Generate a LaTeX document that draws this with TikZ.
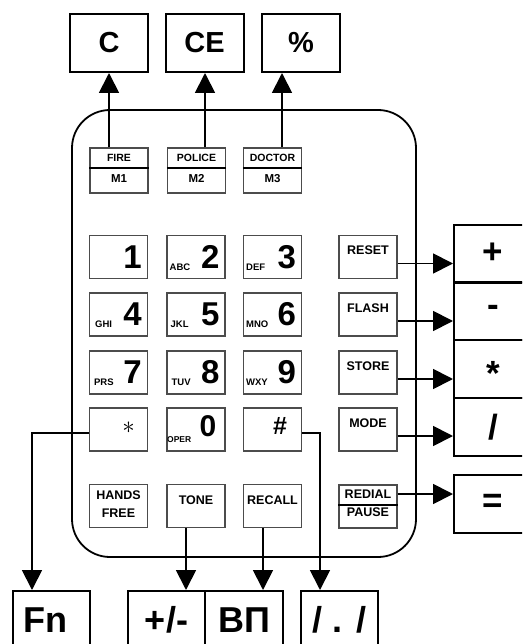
\documentclass[tikz,border=0pt]{standalone}
\usepackage{fontspec}
\setmainfont{Liberation Sans}
\usetikzlibrary{arrows.meta}
\definecolor{keygray}{gray}{0.3}
\newcommand{\fsz}[1]{\fontsize{#1}{#1}\selectfont}
\tikzset{
  keybox/.style={draw=keygray, line width=1.1pt, minimum width=58pt, minimum height=43pt, inner sep=0pt},
  membox/.style={keybox, minimum height=45pt},
  bigbox/.style={draw=black, line width=2pt, minimum width=78pt, minimum height=58pt, inner sep=0pt},
  toptxt/.style={font=\bfseries\fsz{29}, inner sep=0pt},
  sidetxt/.style={font=\bfseries\fsz{35}, inner sep=0pt},
  bottxt/.style={font=\bfseries\fsz{36}, inner sep=0pt},
  digit/.style={font=\bfseries\fsz{33}, inner sep=0pt, anchor=base east},
  letters/.style={font=\bfseries\fsz{9.5}, inner sep=0pt, anchor=base west},
  keylbl/.style={font=\bfseries\fsz{12.5}, inner sep=0pt, anchor=base},
  memlbl/.style={font=\bfseries\fsz{10.5}, inner sep=0pt, anchor=base},
  mlbl/.style={font=\bfseries\fsz{11.5}, inner sep=0pt, anchor=base},
  divider/.style={line width=1.8pt, black},
  conn/.style={line width=1.8pt, -{Triangle[length=20pt,width=20pt]}},
}
\begin{document}
\begin{tikzpicture}[x=1pt,y=-1pt]
\clip (0,0) rectangle (522,644);
\fill[white] (0,0) rectangle (522,644);

% body of the phone
\node[draw, line width=1.8pt, rounded corners=38pt, minimum width=344pt, minimum height=447pt] (body) at (244,333.5) {};

% top boxes
\node[bigbox] (C) at (109,43) {};
\node[toptxt] (Ct) at (C) {C};
\node[bigbox] (CE) at (204.5,43) {};
\node[toptxt] (CEt) at (CE) {CE};
\node[bigbox] (pct) at (301,43) {};
\node[toptxt] (pctt) at (pct) {\%};

% memory keys
\node[membox] (m1) at (119,170.5) {};
\node[membox] (m2) at (196.5,170.5) {};
\node[membox] (m3) at (272.5,170.5) {};
\foreach \m/\a/\b in {m1/FIRE/M1, m2/POLICE/M2, m3/DOCTOR/M3}{
  \draw[divider] ([yshift=2.5pt]\m.west) -- ([yshift=2.5pt]\m.east);
  \node[memlbl] (\m a) at ([yshift=-14pt]\m.north) {\a};
  \node[mlbl] (\m b) at ([yshift=11pt]\m.south) {\b};
}

% digit keys
\foreach \n/\x/\y in {k1/118.5/257, k2/196/257, k3/272.5/257,
                      k4/118.5/314.5, k5/196/314.5, k6/272.5/314.5,
                      k7/118.5/372.5, k8/196/372.5, k9/272.5/372.5,
                      kstar/118.5/429.5, k0/196/429.5, khash/272.5/429.5,
                      hands/118.5/506, tone/196/506, recall/272.5/506}{
  \node[keybox] (\n) at (\x,\y) {};
}
\foreach \n/\d in {k1/1,k2/2,k3/3,k4/4,k5/5,k6/6,k7/7,k8/8,k9/9}{
  \node[digit] (\n d) at ([shift={(-6pt,11pt)}]\n.south east) {\d};
}
\node[letters] (k2l) at ([shift={(3pt,9pt)}]k2.south west) {ABC};
\node[letters] (k3l) at ([shift={(3pt,9pt)}]k3.south west) {DEF};
\node[letters] (k4l) at ([shift={(6pt,9pt)}]k4.south west) {GHI};
\node[letters] (k5l) at ([shift={(4pt,9pt)}]k5.south west) {JKL};
\node[letters] (k6l) at ([shift={(3pt,9pt)}]k6.south west) {MNO};
\node[letters] (k7l) at ([shift={(5pt,9pt)}]k7.south west) {PRS};
\node[letters] (k8l) at ([shift={(5pt,9pt)}]k8.south west) {TUV};
\node[letters] (k9l) at ([shift={(3pt,9pt)}]k9.south west) {WXY};
\node[letters, font=\bfseries\fsz{8.5}] (k0l) at ([shift={(0.5pt,9pt)}]k0.south west) {OPER};
\node[digit, font=\bfseries\fsz{30}] (k0d) at ([shift={(-9pt,15pt)}]k0.south east) {0};
\node[inner sep=0pt, font=\fsz{32}] (kstard) at ([shift={(10pt,2pt)}]kstar.center) {$\ast$};
\node[inner sep=0pt, font=\bfseries\fsz{25}, anchor=base] (khashd) at ([shift={(7.5pt,17pt)}]khash.south) {\#};

% bottom row labels
\node[keylbl] (handsa) at ([yshift=-16pt]hands.north) {HANDS};
\node[keylbl] (handsb) at ([yshift=11pt]hands.south) {FREE};
\node[keylbl] (tonet) at ([yshift=-21pt]tone.north) {TONE};
\node[keylbl] (recallt) at ([yshift=-21pt]recall.north) {RECALL};

% right column keys
\foreach \n/\y/\t in {reset/257/RESET, flash/314.5/FLASH, store/372.5/STORE, mode/429.5/MODE}{
  \node[keybox] (\n) at (368,\y) {};
  \node[keylbl] (\n t) at ([yshift=-20pt]\n.north) {\t};
}
\node[keybox] (redial) at (368,506.5) {};
\draw[divider] ([yshift=1.5pt]redial.west) -- ([yshift=1.5pt]redial.east);
\node[keylbl] (redialt) at ([yshift=-14pt]redial.north) {REDIAL};
\node[keylbl] (pauset) at ([yshift=12pt]redial.south) {PAUSE};

% right boxes
\node[bigbox] (plus) at (493,253.5) {};
\node[sidetxt] (plust) at (plus) {+};
\node[bigbox] (minus) at (493,311) {};
\node[sidetxt] (minust) at (minus) {-};
\node[bigbox] (times) at (493,369) {};
\node[sidetxt, anchor=north] (timest) at ([yshift=-22pt]times.north) {*};
\node[bigbox] (div) at (493,427) {};
\node[sidetxt] (divt) at (div) {/};
\node[bigbox] (eq) at (493,503.5) {};
\node[sidetxt] (eqt) at (eq) {=};

% bottom boxes
\node[bigbox, minimum width=77pt] (fn) at (51.5,620) {};
\node[bottxt] (fnt) at ([xshift=-6pt]fn.center) {Fn};
\node[bigbox, minimum width=77pt] (pm) at (166.5,620) {};
\node[bottxt] (pmt) at (pm) {+/-};
\node[bigbox] (vp) at (244,620) {};
\node[bottxt] (vpt) at (vp) {ВП};
\node[bigbox, minimum width=77pt] (dot) at (339.5,620) {};
\node[bottxt] (dott) at (dot) {/ . /};

% connectors up
\draw[conn] ([xshift=-10pt]m1.north) -- ([xshift=-10pt]m1.north |- C.south);
\draw[conn] ([xshift=8.5pt]m2.north) -- ([xshift=8.5pt]m2.north |- CE.south);
\draw[conn] ([xshift=9.5pt]m3.north) -- ([xshift=9.5pt]m3.north |- pct.south);

% connectors right
\draw[conn] ([yshift=-6.5pt]reset.east) -- ([yshift=-6.5pt]reset.east -| plus.west);
\draw[conn] ([yshift=-6.5pt]flash.east) -- ([yshift=-6.5pt]flash.east -| minus.west);
\draw[conn] ([yshift=-6.5pt]store.east) -- ([yshift=-6.5pt]store.east -| times.west);
\draw[conn] ([yshift=-6.5pt]mode.east) -- ([yshift=-6.5pt]mode.east -| div.west);
\draw[conn] ([yshift=12.5pt]redial.east) -- ([yshift=12.5pt]redial.east -| eq.west);

% connectors down
\draw[conn] ([yshift=-3.5pt]kstar.west) -| ([xshift=-19.5pt]fn.north);
\draw[conn] ([yshift=-3.5pt]khash.east) -| ([xshift=-19.5pt]dot.north);
\draw[conn] ([xshift=-10pt]tone.south) -- ([xshift=-10pt]tone.south |- pm.north);
\draw[conn] ([xshift=-9.5pt]recall.south) -- ([xshift=-9.5pt]recall.south |- vp.north);
\end{tikzpicture}
\end{document}
